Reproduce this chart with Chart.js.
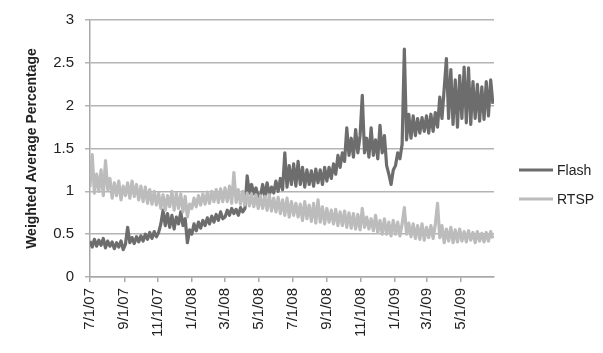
<!DOCTYPE html>
<html>
<head>
<meta charset="utf-8">
<script src="https://cdn.jsdelivr.net/npm/chart.js@4.4.1/dist/chart.umd.min.js"></script>
<style>
html,body{margin:0;padding:0;background:#ffffff;}
#wrap{width:603px;height:353px;}
</style>
</head>
<body>
<div id="wrap"><canvas id="c" width="603" height="353"></canvas></div>
<script>
// Tick categories (date labels) and their day offsets from 7/1/07
const tickLabels = ['7/1/07','9/1/07','11/1/07','1/1/08','3/1/08','5/1/08','7/1/08','9/1/08','11/1/08','1/1/09','3/1/09','5/1/09'];
const tickDays   = [0, 62, 123, 184, 244, 305, 366, 428, 489, 550, 609, 670];
const lastDay = 730;
const sampleStepDays = 4; // one reading every 4 days, starting 7/1/07

// Flash series readings (every 4 days)
const flashValues = [
  0.42,0.35,0.44,0.36,0.43,0.37,0.45,0.34,0.42,0.36,0.41,0.33,0.40,0.35,0.42,0.32,
  0.38,0.58,0.40,0.46,0.39,0.47,0.41,0.48,0.42,0.50,0.44,0.52,0.45,0.53,0.47,
  0.52,0.62,0.78,0.60,0.74,0.58,0.72,0.56,0.70,0.62,0.76,0.60,0.68,0.40,0.55,
  0.50,0.62,0.54,0.64,0.57,0.66,0.60,0.69,0.62,0.71,0.64,0.73,0.66,0.76,0.68,
  0.70,0.78,0.72,0.80,0.74,0.79,0.72,0.81,0.76,0.80,1.18,0.98,1.08,0.97,1.04,0.94,
  0.95,1.08,0.94,1.10,0.96,1.05,0.98,1.12,1.00,1.15,1.02,1.45,1.05,1.30,1.08,
  1.32,1.06,1.35,1.08,1.28,1.05,1.25,1.08,1.24,1.06,1.26,1.10,1.25,1.08,1.28,
  1.12,1.28,1.15,1.32,1.20,1.42,1.28,1.45,1.35,1.74,1.42,1.62,1.40,1.72,1.45,1.65,
  2.12,1.45,1.62,1.40,1.74,1.42,1.60,1.38,1.77,1.45,1.65,1.30,1.20,1.08,1.25,
  1.30,1.45,1.38,1.55,2.66,1.60,1.90,1.62,1.88,1.65,1.85,1.68,1.86,1.70,1.88,
  1.68,1.90,1.70,1.92,1.75,2.10,1.85,2.20,2.55,1.85,2.42,1.78,2.30,1.75,2.35,
  1.85,2.45,1.80,2.44,1.78,2.28,1.85,2.25,1.82,2.22,1.84,2.28,1.88,2.30,2.02
];

// RTSP series readings (every 4 days)
const rtspValues = [
  1.05,1.43,0.98,1.20,1.00,1.25,0.95,1.36,1.02,1.15,0.92,1.10,0.95,1.12,0.90,1.06,
  0.95,1.10,0.92,1.12,0.94,1.08,0.90,1.06,0.88,1.05,0.86,1.02,0.85,1.00,0.84,
  0.98,0.80,0.96,0.78,0.95,0.82,1.00,0.78,0.98,0.80,0.97,0.76,0.94,0.70,0.85,
  0.80,0.92,0.82,0.95,0.84,0.97,0.85,0.99,0.86,1.00,0.88,1.02,0.87,1.03,0.88,
  1.04,0.88,1.06,0.86,1.22,0.87,1.02,0.85,1.00,0.84,0.98,0.83,0.97,0.82,0.96,0.80,
  0.95,0.80,0.94,0.78,0.96,0.77,0.92,0.76,0.93,0.74,0.90,0.72,0.92,0.70,0.88,
  0.72,0.86,0.70,0.85,0.66,0.88,0.68,0.84,0.65,0.86,0.63,0.90,0.64,0.82,0.62,
  0.80,0.64,0.78,0.62,0.79,0.60,0.76,0.60,0.77,0.58,0.75,0.57,0.74,0.56,0.73,0.55,
  0.80,0.58,0.70,0.56,0.68,0.54,0.72,0.52,0.66,0.50,0.68,0.50,0.64,0.48,0.66,
  0.50,0.64,0.48,0.62,0.81,0.50,0.63,0.47,0.62,0.45,0.60,0.44,0.62,0.43,0.58,
  0.46,0.60,0.45,0.62,0.86,0.46,0.60,0.40,0.56,0.42,0.58,0.40,0.55,0.41,0.56,
  0.42,0.53,0.41,0.54,0.43,0.52,0.40,0.53,0.42,0.51,0.41,0.52,0.42,0.53,0.45
];

const seriesNames = ['Flash', 'RTSP'];
const seriesColors = ['#6d6d6d', '#bcbcbc'];
const yTitle = 'Weighted Average Percentage';

const toPoints = vals => vals.map((v, i) => ({x: i * sampleStepDays, y: v}));

const FONT = "'Liberation Sans', Arial, sans-serif";

const sideLegend = {
  id: 'sideLegend',
  afterDraw(chart) {
    const ctx = chart.ctx;
    const rows = [170, 199];
    ctx.save();
    seriesNames.forEach((name, k) => {
      const y = rows[k];
      ctx.strokeStyle = seriesColors[k];
      ctx.lineWidth = 3;
      ctx.beginPath();
      ctx.moveTo(519, y);
      ctx.lineTo(553, y);
      ctx.stroke();
      ctx.fillStyle = '#222';
      ctx.font = '14px ' + FONT;
      ctx.textAlign = 'left';
      ctx.textBaseline = 'middle';
      ctx.fillText(name, 557, y + 1);
    });
    ctx.restore();
  }
};

new Chart(document.getElementById('c').getContext('2d'), {
  type: 'line',
  data: {
    datasets: [
      {label: seriesNames[0], data: toPoints(flashValues), borderColor: seriesColors[0], borderWidth: 3.2, pointRadius: 0, tension: 0, borderJoinStyle: 'round', order: 2},
      {label: seriesNames[1], data: toPoints(rtspValues), borderColor: seriesColors[1], borderWidth: 3.2, pointRadius: 0, tension: 0, borderJoinStyle: 'round', order: 1}
    ]
  },
  options: {
    responsive: false,
    animation: false,
    layout: {padding: {left: 24, top: 18, right: 109, bottom: 0}},
    plugins: {legend: {display: false}, tooltip: {enabled: false}},
    scales: {
      x: {
        type: 'linear', min: 0, max: lastDay,
        afterBuildTicks: s => { s.ticks = tickDays.map(v => ({value: v})); },
        afterFit: s => { s.height = 76; },
        ticks: {
          autoSkip: false, minRotation: 90, maxRotation: 90, padding: 6,
          color: '#222', font: {family: FONT, size: 15},
          callback: v => { const k = tickDays.indexOf(v); return k >= 0 ? tickLabels[k] : ''; }
        },
        grid: {drawOnChartArea: false, tickLength: 5, color: '#a8a8a8', lineWidth: 1.5},
        border: {color: '#a8a8a8', width: 1.5}
      },
      y: {
        min: 0, max: 3,
        afterFit: s => { s.width = 66; },
        ticks: {stepSize: 0.5, padding: 11, color: '#222', font: {family: FONT, size: 15},
          callback: v => String(Math.round(v * 10) / 10)},
        grid: {color: '#b4b4b4', lineWidth: 1.5, tickLength: 5},
        border: {color: '#a8a8a8', width: 1.5},
        title: {display: true, text: yTitle, color: '#222', padding: {top: 0, bottom: 0}, font: {family: FONT, size: 14, weight: 'bold'}}
      }
    }
  },
  plugins: [sideLegend]
});
</script>
</body>
</html>
